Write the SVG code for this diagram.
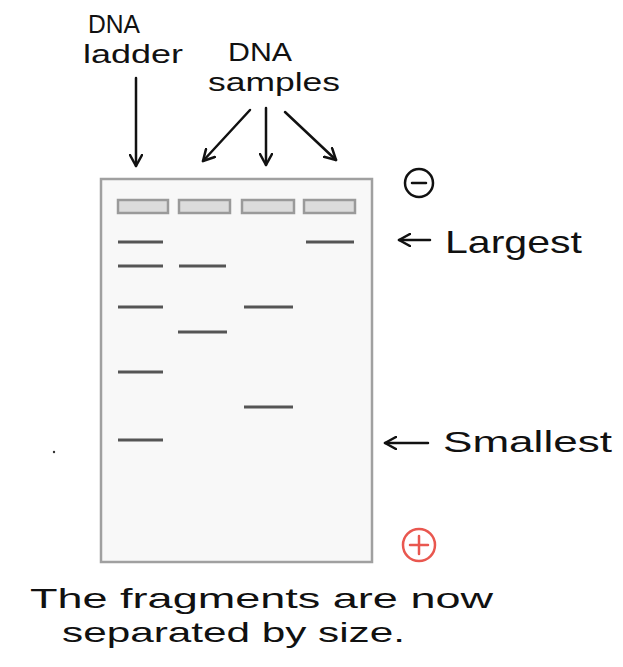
<svg xmlns="http://www.w3.org/2000/svg" width="623" height="667" viewBox="0 0 623 667">
<style>
.t{font-family:"Liberation Sans","Open Sans",sans-serif;fill:#111;}
.ar{stroke:#111;stroke-width:2.5;fill:none;stroke-linecap:round;stroke-linejoin:round;}
.well{fill:#dcdcdc;stroke:#9a9a9a;stroke-width:2.5;}
.band{stroke:#555;stroke-width:3;}
</style>
<defs>
<marker id="ah" viewBox="0 0 14 14" refX="12" refY="7" markerWidth="14" markerHeight="14" markerUnits="userSpaceOnUse" orient="auto">
<path d="M1,1 L12,7 L1,13" fill="none" stroke="#111" stroke-width="2.5" stroke-linecap="round" stroke-linejoin="round"/>
</marker>
</defs>
<rect width="623" height="667" fill="#fff"/>
<g id="gel">
<rect x="101" y="179" width="271" height="383" fill="#f8f8f8" stroke="#a0a0a0" stroke-width="2.5"/>
<rect class="well" x="118" y="200" width="50" height="13"/>
<rect class="well" x="179" y="200" width="51" height="13"/>
<rect class="well" x="242" y="200" width="52" height="13"/>
<rect class="well" x="304" y="200" width="51" height="13"/>
<line class="band" x1="118" y1="242" x2="163" y2="242"/>
<line class="band" x1="118" y1="266" x2="163" y2="266"/>
<line class="band" x1="118" y1="307" x2="163" y2="307"/>
<line class="band" x1="118" y1="372" x2="163" y2="372"/>
<line class="band" x1="118" y1="440" x2="163" y2="440"/>
<line class="band" x1="179" y1="266" x2="226" y2="266"/>
<line class="band" x1="178" y1="332" x2="227" y2="332"/>
<line class="band" x1="244" y1="307" x2="293" y2="307"/>
<line class="band" x1="244" y1="407" x2="293" y2="407"/>
<line class="band" x1="306" y1="242" x2="354" y2="242"/>
</g>
<g id="labels">
<text class="t" x="88" y="33" font-size="25" textLength="52" lengthAdjust="spacingAndGlyphs">DNA</text>
<text class="t" x="83" y="63" font-size="25" textLength="100" lengthAdjust="spacingAndGlyphs">ladder</text>
<text class="t" x="228" y="61" font-size="25" textLength="64" lengthAdjust="spacingAndGlyphs">DNA</text>
<text class="t" x="208" y="91" font-size="25" textLength="132" lengthAdjust="spacingAndGlyphs">samples</text>
<text class="t" x="445" y="253" font-size="32" textLength="137" lengthAdjust="spacingAndGlyphs">Largest</text>
<text class="t" x="443" y="452" font-size="30" textLength="169" lengthAdjust="spacingAndGlyphs">Smallest</text>
<text class="t" x="30" y="608" font-size="28" textLength="463" lengthAdjust="spacingAndGlyphs">The fragments are now</text>
<text class="t" x="62" y="642" font-size="28" textLength="343" lengthAdjust="spacingAndGlyphs">separated by size.</text>
</g>
<g id="electrodes">
<circle cx="419" cy="183" r="14" fill="none" stroke="#111" stroke-width="2.5"/>
<line x1="412" y1="183" x2="426" y2="183" stroke="#111" stroke-width="2.5" stroke-linecap="round"/>
<circle cx="419" cy="545" r="16" fill="none" stroke="#e9574f" stroke-width="2.5"/>
<line x1="410" y1="545" x2="428" y2="545" stroke="#e9574f" stroke-width="2.5" stroke-linecap="round"/>
<line x1="419" y1="536" x2="419" y2="554" stroke="#e9574f" stroke-width="2.5" stroke-linecap="round"/>
</g>
<g id="connectors">
<line class="ar" x1="136" y1="78" x2="136" y2="166" marker-end="url(#ah)"/>
<line class="ar" x1="250" y1="110" x2="203" y2="161" marker-end="url(#ah)"/>
<line class="ar" x1="266" y1="108" x2="266" y2="165" marker-end="url(#ah)"/>
<line class="ar" x1="285" y1="112" x2="336" y2="160" marker-end="url(#ah)"/>
<line class="ar" x1="430" y1="240" x2="399" y2="240" marker-end="url(#ah)"/>
<line class="ar" x1="428" y1="443" x2="385" y2="443" marker-end="url(#ah)"/>
</g>
<circle cx="54" cy="452" r="1.2" fill="#333"/>
</svg>
